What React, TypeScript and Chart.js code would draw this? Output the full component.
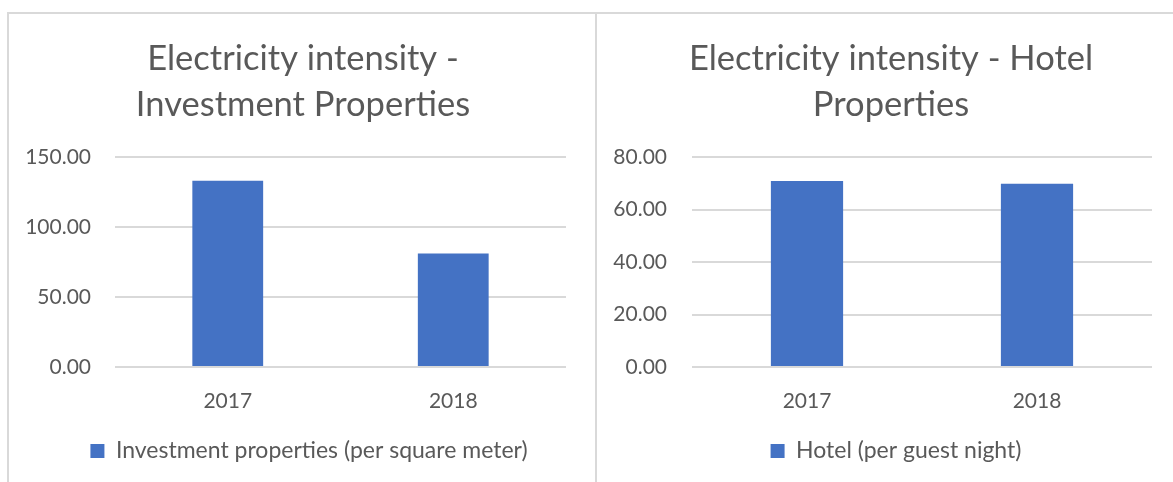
import React, { useEffect, useRef } from "react";
import { Chart, registerables } from "chart.js";

Chart.register(...registerables);

const categories = ["2017", "2018"];

const investTitle = ["Electricity intensity -", "Investment Properties"];
const investLabel = "Investment properties (per square meter)";
const investValues = [133, 81];
const investMax = 150;
const investStep = 50;

const hotelTitle = ["Electricity intensity - Hotel", "Properties"];
const hotelLabel = "Hotel (per guest night)";
const hotelValues = [70.9, 69.8];
const hotelMax = 80;
const hotelStep = 20;

const FONT = "Lato";
const TEXT = "#595959";
const GRID = "#d9d9d9";
const BAR = "#4472C4";

const recenter = {
  id: "recenter",
  afterLayout(chart: any, _args: any, opts: any) {
    const t = chart.titleBlock;
    if (t && opts.title) {
      t.left = opts.title[0];
      t.right = opts.title[1];
      t.width = t.right - t.left;
    }
    const l = chart.legend;
    if (l && opts.legend) {
      l.left = opts.legend[0];
      l.right = opts.legend[1];
      l.width = l.right - l.left;
    }
  },
};

type PanelProps = {
  left: number;
  width: number;
  title: string[];
  label: string;
  values: number[];
  max: number;
  step: number;
  yWidth: number;
  padRight: number;
  tickPad: number;
  titleBox: number[];
  legendBox: number[];
};

function Panel(props: PanelProps) {
  const ref = useRef<HTMLCanvasElement | null>(null);
  useEffect(() => {
    if (!ref.current) return;
    const chart = new Chart(ref.current, {
      type: "bar",
      data: {
        labels: categories,
        datasets: [
          {
            label: props.label,
            data: props.values,
            backgroundColor: BAR,
            borderWidth: 0,
            categoryPercentage: 1,
            barPercentage: 0.314,
          },
        ],
      },
      plugins: [recenter],
      options: {
        animation: false,
        responsive: false,
        maintainAspectRatio: false,
        layout: {
          padding: { left: 0, right: props.padRight, top: 0, bottom: 9.5 },
        },
        plugins: {
          recenter: { title: props.titleBox, legend: props.legendBox },
          tooltip: { enabled: false },
          title: {
            display: true,
            text: props.title,
            color: TEXT,
            font: { family: FONT, size: 34.5, weight: "normal", lineHeight: 46 / 34.5 },
            padding: { top: 36, bottom: 29 },
          },
          legend: {
            display: true,
            position: "bottom",
            labels: {
              color: TEXT,
              font: { family: FONT, size: 23 },
              boxWidth: 14,
              boxHeight: 14,
              padding: 10,
            },
          },
        } as any,
        scales: {
          x: {
            grid: { display: false },
            border: { display: false },
            ticks: { color: TEXT, font: { family: FONT, size: 21 }, padding: 14 },
            afterFit: (s: any) => {
              s.height = 62.5;
            },
          },
          y: {
            min: 0,
            max: props.max,
            grid: { color: GRID, lineWidth: 2, drawTicks: false },
            border: { display: false },
            ticks: {
              stepSize: props.step,
              color: TEXT,
              font: { family: FONT, size: 21 },
              padding: props.tickPad,
              callback: (v: any) => Number(v).toFixed(2),
            },
            afterFit: (s: any) => {
              s.width = props.yWidth;
            },
          },
        },
      },
    });
    return () => chart.destroy();
  }, []);
  return (
    <div style={{ position: "absolute", left: props.left, top: 0, width: props.width, height: 482 }}>
      <canvas ref={ref} width={props.width} height={482} style={{ display: "block" }} />
    </div>
  );
}

export default function App() {
  return (
    <div
      style={{
        position: "absolute",
        left: 0,
        top: 0,
        width: 1173,
        height: 482,
        overflow: "hidden",
        background: "#ffffff",
      }}
    >
      <div style={{ position: "absolute", left: 7, top: 12, width: 1200, height: 2, background: GRID }} />
      <div style={{ position: "absolute", left: 7, top: 12, width: 2, height: 480, background: GRID }} />
      <div style={{ position: "absolute", left: 595, top: 12, width: 2, height: 480, background: GRID }} />
      <Panel
        left={8}
        width={588}
        title={investTitle}
        label={investLabel}
        values={investValues}
        max={investMax}
        step={investStep}
        yWidth={107}
        padRight={30}
        tickPad={24}
        titleBox={[32, 558]}
        legendBox={[44, 558]}
      />
      <Panel
        left={598}
        width={586}
        title={hotelTitle}
        label={hotelLabel}
        values={hotelValues}
        max={hotelMax}
        step={hotelStep}
        yWidth={94}
        padRight={32}
        tickPad={25}
        titleBox={[32, 554]}
        legendBox={[42, 554]}
      />
    </div>
  );
}
